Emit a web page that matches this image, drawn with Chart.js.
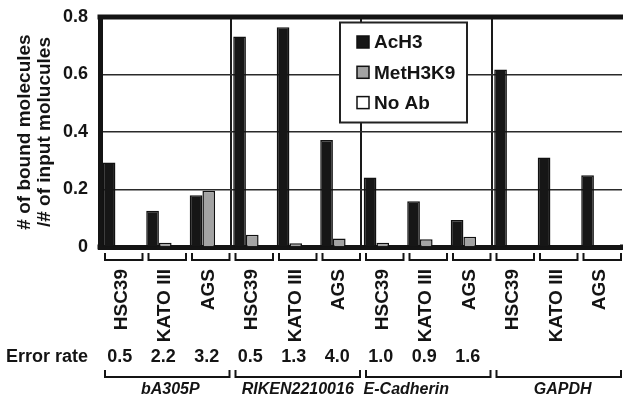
<!DOCTYPE html>
<html>
<head>
<meta charset="utf-8">
<script src="https://cdn.jsdelivr.net/npm/chart.js@4/dist/chart.umd.min.js"></script>
<style>
  html, body { margin: 0; padding: 0; background: #fff; }
  #wrap { width: 623px; height: 397px; position: relative; }
</style>
</head>
<body>
<div id="wrap"><canvas id="c" width="623" height="397"></canvas></div>
<script>
// ---- data ----
const cellLines = ['HSC39', 'KATO III', 'AGS', 'HSC39', 'KATO III', 'AGS', 'HSC39', 'KATO III', 'AGS', 'HSC39', 'KATO III', 'AGS'];
const genes = ['bA305P', 'RIKEN2210016', 'E-Cadherin', 'GAPDH'];
const acH3 = [0.294, 0.126, 0.180, 0.732, 0.764, 0.372, 0.242, 0.159, 0.094, 0.617, 0.311, 0.250];
const metH3K9 = [0.0, 0.015, 0.196, 0.043, 0.013, 0.030, 0.015, 0.027, 0.036, 0.0, 0.0, 0.0];
const noAb = [0, 0, 0, 0, 0, 0, 0, 0, 0, 0, 0, 0];
const errorRates = [0.5, 2.2, 3.2, 0.5, 1.3, 4.0, 1.0, 0.9, 1.6, null, null, null];
const yTicks = [0, 0.2, 0.4, 0.6, 0.8];
const yTitle = ['# of bound molecules', '/# of input molucules'];
const errorLabel = 'Error rate';

const FONT = '"Liberation Sans", Arial, Helvetica, sans-serif';
const INK = '#141414';

const extrasPlugin = {
  id: 'extras',
  afterDraw(chart) {
    const ctx = chart.ctx;
    const ca = chart.chartArea;
    const x = chart.scales.x;
    const n = cellLines.length;
    const hw = x.width / n / 2;
    ctx.save();
    ctx.fillStyle = INK;
    ctx.strokeStyle = INK;
    // top frame line and corners
    ctx.fillRect(ca.left - 2.5, ca.top - 2.5, chart.width - ca.left + 2.5, 5);
    ctx.fillRect(ca.left - 2.5, ca.bottom - 2.5, 5, 5);
    ctx.fillRect(ca.right - 2, ca.bottom - 2.5, chart.width - ca.right + 2, 5);

    // per-category brackets
    ctx.lineWidth = 2;
    const bTop = ca.bottom + 6, bBot = ca.bottom + 13;
    for (let i = 0; i < n; i++) {
      const c = x.getPixelForValue(i);
      const l = c - hw + 5, r = c + hw - 1;
      ctx.beginPath();
      ctx.moveTo(l, bTop); ctx.lineTo(l, bBot); ctx.lineTo(r, bBot); ctx.lineTo(r, bTop);
      ctx.stroke();
    }

    // error rate row
    const ey = ca.bottom + 110;
    ctx.font = 'bold 18px ' + FONT;
    ctx.textBaseline = 'middle';
    ctx.textAlign = 'left';
    ctx.fillText(errorLabel, 6, ey);
    ctx.textAlign = 'center';
    errorRates.forEach((v, i) => {
      if (v === null) return;
      ctx.fillText(v.toFixed(1), x.getPixelForValue(i) - 2, ey);
    });

    // gene group brackets + names
    const gTop = ca.bottom + 123, gBot = ca.bottom + 130;
    const nameShift = [3, 0, -22, 4];
    ctx.font = 'italic bold 16px ' + FONT;
    genes.forEach((g, k) => {
      const l = x.getPixelForValue(k * 3) - hw + 5;
      const r = x.getPixelForValue(k * 3 + 2) + hw - 1;
      ctx.beginPath();
      ctx.moveTo(l, gTop); ctx.lineTo(l, gBot); ctx.lineTo(r, gBot); ctx.lineTo(r, gTop);
      ctx.stroke();
      ctx.fillText(g, (l + r) / 2 + nameShift[k], ca.bottom + 143);
    });

    // legend box
    const lx = 340, ly = 22.5, lw = 127, lh = 100;
    ctx.fillStyle = '#fff';
    ctx.fillRect(lx, ly, lw, lh);
    ctx.lineWidth = 2;
    ctx.strokeStyle = '#222';
    ctx.strokeRect(lx, ly, lw, lh);
    ctx.font = 'bold 19px ' + FONT;
    ctx.textAlign = 'left';
    chart.data.datasets.forEach((ds, i) => {
      const cy = 42 + i * 30.3;
      ctx.fillStyle = ds.backgroundColor;
      ctx.fillRect(357, cy - 6, 12, 12);
      ctx.lineWidth = 1.5;
      ctx.strokeStyle = '#111';
      ctx.strokeRect(357, cy - 6, 12, 12);
      ctx.fillStyle = INK;
      ctx.fillText(ds.label, 374, cy + 1);
    });
    ctx.restore();
  }
};

const barStyle = { borderColor: '#111', borderWidth: 1.5, borderSkipped: 'start' };

new Chart(document.getElementById('c'), {
  type: 'bar',
  data: {
    labels: cellLines,
    datasets: [
      Object.assign({ label: 'AcH3', data: acH3, backgroundColor: '#161616' }, barStyle),
      Object.assign({ label: 'MetH3K9', data: metH3K9, backgroundColor: '#a3a3a3' }, barStyle),
      Object.assign({ label: 'No Ab', data: noAb, backgroundColor: '#ffffff' }, barStyle)
    ]
  },
  options: {
    responsive: false,
    animation: false,
    devicePixelRatio: 1,
    layout: { padding: { top: 17, right: 1, left: 0, bottom: 0 } },
    datasets: { bar: { categoryPercentage: 0.875, barPercentage: 1.0 } },
    plugins: { legend: { display: false }, tooltip: { enabled: false } },
    scales: {
      x: {
        z: 1,
        offset: true,
        afterFit: (s) => { s.height = 150; s.paddingLeft = 0; s.paddingRight = 0; },
        grid: {
          offset: true,
          drawTicks: false,
          lineWidth: 2,
          color: (c) => (c.index % 3 === 0 && c.index > 0 && c.index < 12) ? '#1a1a1a' : 'rgba(0,0,0,0)'
        },
        border: { display: true, width: 5, color: INK },
        ticks: {
          autoSkip: false,
          minRotation: 90,
          maxRotation: 90,
          padding: 22,
          color: INK,
          font: { family: FONT, size: 19, weight: 'bold' }
        }
      },
      y: {
        min: 0,
        max: 0.8,
        afterFit: (s) => { s.width = 100; s.paddingTop = 0; s.paddingBottom = 0; },
        afterBuildTicks: (s) => { s.ticks = yTicks.map(v => ({ value: v })); },
        grid: { drawTicks: false, lineWidth: 1.5, color: '#2a2a2a' },
        border: { display: true, width: 5, color: INK },
        ticks: {
          padding: 12,
          color: INK,
          font: { family: FONT, size: 18, weight: 'bold' },
          callback: (v) => v === 0 ? '0' : Number(v).toFixed(1)
        },
        title: {
          display: true,
          text: yTitle,
          color: INK,
          padding: { top: 15, bottom: 0 },
          font: { family: FONT, size: 19, weight: 'bold', lineHeight: 1.05 }
        }
      }
    }
  },
  plugins: [extrasPlugin]
});
</script>
</body>
</html>
